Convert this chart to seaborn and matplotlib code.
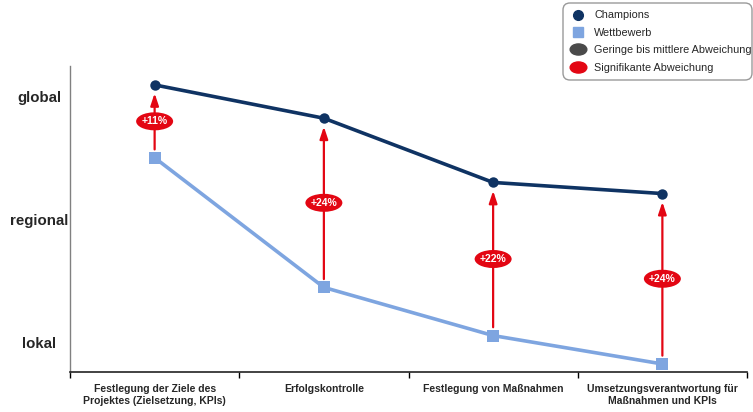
import matplotlib
matplotlib.use("Agg")
import matplotlib.pyplot as plt
from matplotlib.lines import Line2D
from matplotlib.markers import MarkerStyle
from matplotlib.patches import Ellipse, FancyBboxPatch
from matplotlib.transforms import Affine2D, ScaledTranslation
import seaborn as sns
import pandas as pd

# Process steps (x categories)
categories = [
    "Festlegung der Ziele des\nProjektes (Zielsetzung, KPIs)",
    "Erfolgskontrolle",
    "Festlegung von Maßnahmen",
    "Umsetzungsverantwortung für\nMaßnahmen und KPIs",
]
# Scope scale: 1 = lokal, 2 = regional, 3 = global
level_values = [1, 2, 3]
level_labels = ["lokal", "regional", "global"]

champions = [3.09, 2.82, 2.30, 2.21]
wettbewerb = [2.50, 1.45, 1.06, 0.83]
differences = ["+11%", "+24%", "+22%", "+24%"]

NAVY = "#0f3363"
LIGHT = "#7ea5e0"
RED = "#e30613"
GREY = "#4a4a4a"

sns.set_theme(style="white")
plt.rcParams["font.family"] = ["Liberation Sans", "DejaVu Sans"]

fig = plt.figure(figsize=(7.53, 4.12), dpi=100)
ax = fig.add_axes([70 / 753, 1 - 372 / 412, 677 / 753, 306 / 412])

pos = list(range(len(categories)))
df = pd.DataFrame({
    "pos": pos * 2,
    "value": champions + wettbewerb,
    "group": ["Champions"] * 4 + ["Wettbewerb"] * 4,
})

sns.lineplot(data=df[df.group == "Champions"], x="pos", y="value", ax=ax,
             color=NAVY, lw=2.6, marker="o", markersize=7.5,
             markeredgewidth=0, legend=False)
sns.lineplot(data=df[df.group == "Wettbewerb"], x="pos", y="value", ax=ax,
             color=LIGHT, lw=2.6, marker="s", markersize=8,
             markeredgewidth=0, legend=False)

ax.set_xlim(-0.5, 3.5)
ax.set_ylim(0.765, 3.243)

# Significance arrows from competitor to champion value, with labelled ovals
for i, (c, w, d) in enumerate(zip(champions, wettbewerb, differences)):
    mid = (c + w) / 2
    ax.annotate("", xy=(i, c), xytext=(i, w),
                arrowprops=dict(arrowstyle="-|>,head_length=0.6,head_width=0.2",
                                color=RED, lw=1.6, shrinkA=6, shrinkB=6),
                zorder=1)
    oval_patch = Ellipse((0, 0), 0.37, 0.18, fc=RED, ec="none", zorder=3,
                         clip_on=False,
                         transform=fig.dpi_scale_trans
                         + ScaledTranslation(i, mid, ax.transData))
    ax.add_patch(oval_patch)
    ax.text(i, mid, d, ha="center", va="center", color="white",
            fontsize=7.5, fontweight="bold", zorder=4)

ax.set_xticks(pos)
ax.set_xticklabels(categories, fontsize=7.5, fontweight="bold",
                   fontstretch="condensed")
ax.set_xticks([-0.5, 0.5, 1.5, 2.5, 3.5], minor=True)
ax.tick_params(axis="x", which="major", length=0, pad=9)
ax.tick_params(axis="x", which="minor", length=4, width=1, color="black",
               direction="out", bottom=True)

ax.set_yticks(level_values)
ax.set_yticklabels(level_labels, fontsize=10.8, fontweight="bold")
for lbl in ax.get_yticklabels():
    lbl.set_horizontalalignment("center")
ax.tick_params(axis="y", length=0, pad=22)
ax.set_xlabel("")
ax.set_ylabel("")

for side in ("top", "right"):
    ax.spines[side].set_visible(False)
ax.spines["left"].set_color("#808080")
ax.spines["left"].set_linewidth(1)
ax.spines["bottom"].set_color("#222222")
ax.spines["bottom"].set_linewidth(1.2)

# Legend: entries without frame, rounded box drawn separately
oval = MarkerStyle("o", transform=Affine2D().scale(1.5, 1.0))
handles = [
    Line2D([], [], ls="none", marker="o", color=NAVY, markersize=7),
    Line2D([], [], ls="none", marker="s", color=LIGHT, markersize=6.5),
    Line2D([], [], ls="none", marker=oval, color=GREY, markersize=8),
    Line2D([], [], ls="none", marker=oval, color=RED, markersize=8),
]
labels = ["Champions", "Wettbewerb", "Geringe bis mittlere Abweichung",
          "Signifikante Abweichung"]
fig.legend(handles, labels, loc="upper left",
           bbox_to_anchor=(569 / 753, 1 - 10.5 / 412), borderaxespad=0,
           borderpad=0, fontsize=7.8, frameon=False, handlelength=1.6,
           handletextpad=0.74, labelspacing=0.68)
legend_box = FancyBboxPatch((5.63, 4.12 - 0.80), 1.89, 0.77,
                            boxstyle="round,pad=0,rounding_size=0.07",
                            transform=fig.dpi_scale_trans, fc="white",
                            ec="#9a9a9a", lw=1, zorder=0)
fig.patches.append(legend_box)

fig.savefig("out.png", dpi=100)
